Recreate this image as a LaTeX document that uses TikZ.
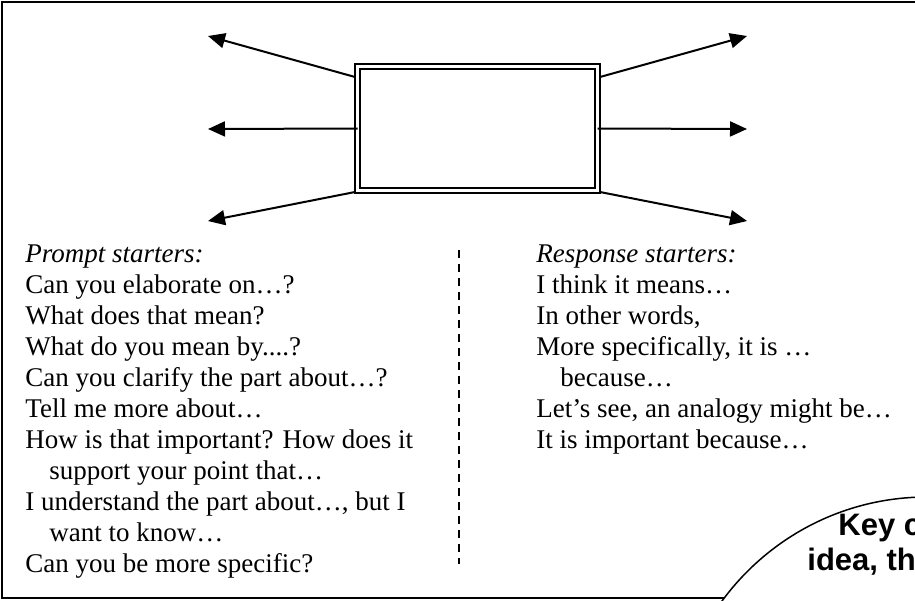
\documentclass[tikz,border=0pt]{standalone}
\usepackage{fontspec}
\setmainfont{Liberation Serif}
\newfontfamily\keyfont{Liberation Sans}
\usetikzlibrary{arrows.meta}
\begin{document}
\begin{tikzpicture}[x=0.5pt,y=-0.5pt,
  frame/.style={line width=0.75pt},
  arr/.style={line width=1pt,-{Triangle[length=8.5pt,width=7.5pt]}},
  txt/.style={anchor=base west,inner sep=0pt,font=\fontsize{13.5pt}{15.5pt}\selectfont},
  keytxt/.style={anchor=base west,inner sep=0pt,font=\keyfont\bfseries\fontsize{15.5pt}{18pt}\selectfont},
  divider/.style={line width=0.9pt,dash pattern=on 3.85pt off 3.15pt},
  conceptbox/.style={draw,double,line width=1.25pt,double distance=1.25pt,
    minimum width=120pt,minimum height=62pt,inner sep=0pt,outer sep=0pt}]
\useasboundingbox (0,0) rectangle (915,600);
\clip (0,0) rectangle (915,600);
% outer frame
\coordinate (fTR) at (925,2);
\coordinate (fTL) at (2,2);
\coordinate (fBL) at (2,598);
\coordinate (fBR) at (724,598);
\draw[frame] (fTR) -- (fTL) -- (fBL) -- (fBR);
% key concept circle (mostly off the page)
\node[draw,circle,fill=white,line width=0.75pt,minimum size=254pt,inner sep=0pt] (key) at (927,751) {};
\node[keytxt] (key1) at (838,535) {Key c};
\node[keytxt] (key2) at (807,570) {idea, th};
% central box
\node[conceptbox] (box) at (477.5,128.5) {};
% arrow tips
\coordinate (tl) at (208,36);
\coordinate (ml) at (208,129);
\coordinate (bl) at (208,221);
\coordinate (tr) at (747,36);
\coordinate (mr) at (747,129);
\coordinate (br) at (747,221);
\draw[arr] ([xshift=-1.25pt,yshift=-5.25pt]box.north west) -- (tl);
\draw[arr] (box.west) -- (ml);
\draw[arr] ([xshift=-1.25pt,yshift=-0.75pt]box.south west) -- (bl);
\draw[arr] ([xshift=1.25pt,yshift=-5.25pt]box.north east) -- (tr);
\draw[arr] (box.east) -- (mr);
\draw[arr] ([xshift=1.25pt,yshift=-0.75pt]box.south east) -- (br);
% divider
\coordinate (dtop) at (459,250);
\coordinate (dbot) at (459,564);
\draw[divider] (dtop) -- (dbot);
% left column
\node[txt] (p0) at (25,262) {\itshape Prompt starters:};
\node[txt] (p1) at (25,293) {Can you elaborate on…?};
\node[txt] (p2) at (25,324) {What does that mean?};
\node[txt] (p3) at (25,355) {What do you mean by....?};
\node[txt] (p4) at (25,386) {Can you clarify the part about…?};
\node[txt] (p5) at (25,417) {Tell me more about…};
\node[txt] (p6) at (25,448) {How is that important? How does it};
\node[txt] (p7) at (25,479) {\hspace*{12pt}support your point that…};
\node[txt] (p8) at (25,510) {I understand the part about…, but I};
\node[txt] (p9) at (25,541) {\hspace*{12pt}want to know…};
\node[txt] (p10) at (25,572) {Can you be more specific?};
% right column
\node[txt] (r0) at (536,262) {\itshape Response starters:};
\node[txt] (r1) at (536,293) {I think it means…};
\node[txt] (r2) at (536,324) {In other words,};
\node[txt] (r3) at (536,355) {More specifically, it is …};
\node[txt] (r4) at (536,386) {\hspace*{12pt}because…};
\node[txt] (r5) at (536,417) {Let’s see, an analogy might be…};
\node[txt] (r6) at (536,448) {It is important because…};
\end{tikzpicture}
\end{document}
